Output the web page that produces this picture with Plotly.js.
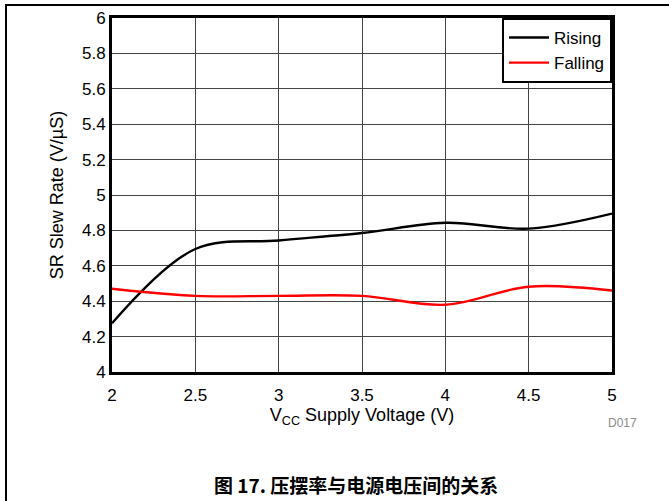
<!DOCTYPE html>
<html>
<head>
<meta charset="utf-8">
<script src="https://cdn.plot.ly/plotly-3.0.1.min.js"></script>
<style>
  html, body { margin: 0; padding: 0; background: #fff; }
  #wrap { position: relative; width: 669px; height: 501px; overflow: hidden; }
  #frame { position: absolute; left: 5px; top: 4px; width: 700px; height: 600px;
           border-top: 2px solid #000; border-left: 2px solid #000; pointer-events: none; }
  #chart { position: absolute; left: 0; top: 0; width: 669px; height: 501px; }
</style>
</head>
<body>
<div id="wrap">
  <div id="chart"></div>
  <div id="frame"></div>
</div>
<script>
// Data
const vcc = [2, 2.5, 3, 3.5, 4, 4.5, 5];
const rising = [4.275, 4.695, 4.743, 4.785, 4.843, 4.81, 4.895];
const falling = [4.47, 4.43, 4.43, 4.43, 4.38, 4.482, 4.46];
const xTicks = [2, 2.5, 3, 3.5, 4, 4.5, 5];
const xTickText = ["2", "2.5", "3", "3.5", "4", "4.5", "5"];
const yTicks = [4, 4.2, 4.4, 4.6, 4.8, 5, 5.2, 5.4, 5.6, 5.8, 6];
const yTickText = ["4", "4.2", "4.4", "4.6", "4.8", "5", "5.2", "5.4", "5.6", "5.8", "6"];

const font = "Liberation Sans, Arial, sans-serif";

const traces = [
  { x: vcc, y: rising, name: "Rising", mode: "lines",
    line: { color: "#000000", width: 2.4, shape: "spline", smoothing: 1 } },
  { x: vcc, y: falling, name: "Falling", mode: "lines",
    line: { color: "#ff0000", width: 2.4, shape: "spline", smoothing: 1 } }
];

const layout = {
  width: 669, height: 501,
  margin: { l: 112, r: 57, t: 18, b: 129 },
  paper_bgcolor: "#ffffff", plot_bgcolor: "#ffffff",
  font: { family: font, size: 16, color: "#000" },
  showlegend: true,
  legend: { x: 1, y: 1, xanchor: "right", yanchor: "top",
            bgcolor: "#ffffff", bordercolor: "#000", borderwidth: 2,
            font: { family: font, size: 17, color: "#000" },
            tracegroupgap: 0, itemwidth: 40 },
  xaxis: {
    range: [2, 5], tickvals: xTicks, ticktext: xTickText,
    showgrid: true, gridcolor: "#444", gridwidth: 1,
    zeroline: false, showline: true, linecolor: "#000", linewidth: 3, mirror: true,
    ticks: "", ticklabelstandoff: 6, tickfont: { family: font, size: 17, color: "#000" },
    title: { text: "V<sub>CC</sub> Supply Voltage (V)", standoff: 4,
             font: { family: font, size: 18, color: "#000" } }
  },
  yaxis: {
    range: [4, 6], tickvals: yTicks, ticktext: yTickText,
    showgrid: true, gridcolor: "#444", gridwidth: 1,
    zeroline: false, showline: true, linecolor: "#000", linewidth: 3, mirror: true,
    ticks: "", tickfont: { family: font, size: 17, color: "#000" },
    title: { text: "SR Slew Rate (V/µS)", standoff: 14,
             font: { family: font, size: 18, color: "#000" } }
  },
  annotations: [
    { text: "D017", xref: "paper", yref: "paper", x: 1.02, y: -0.144,
      xanchor: "center", yanchor: "middle", showarrow: false,
      font: { family: font, size: 12, color: "#8a8a8a" } },
    { text: "<b>图 17. 压摆率与电源电压间的关系</b>", xref: "paper", yref: "paper",
      x: 0.488, y: -0.362, xanchor: "center", yanchor: "bottom", showarrow: false,
      font: { family: "Noto Sans CJK SC, sans-serif", size: 19, color: "#000" } }
  ]
};

Plotly.newPlot("chart", traces, layout, { displayModeBar: false, staticPlot: true });
</script>
</body>
</html>
